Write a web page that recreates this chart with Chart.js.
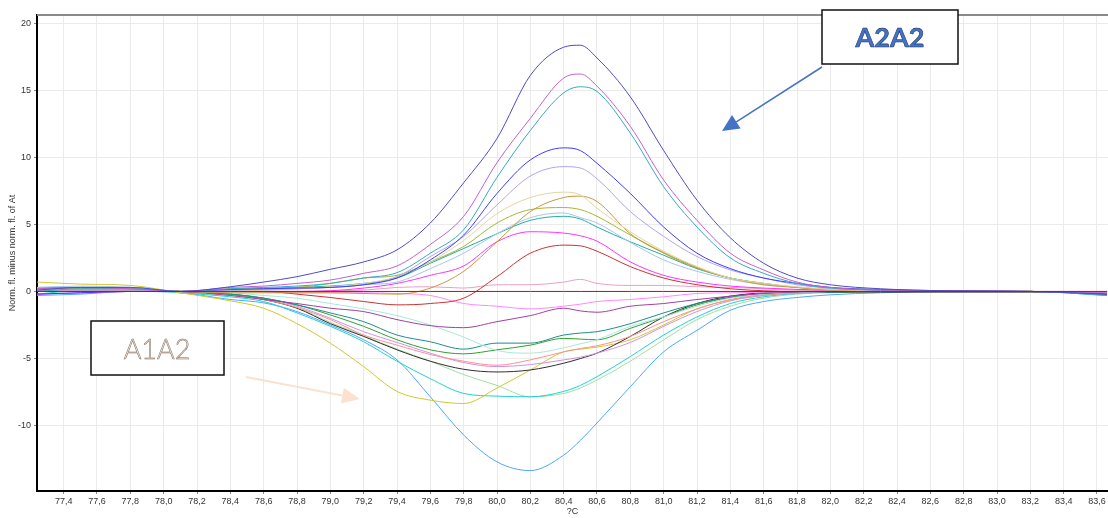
<!DOCTYPE html>
<html>
<head>
<meta charset="utf-8">
<script src="https://cdn.jsdelivr.net/npm/chart.js@4/dist/chart.umd.min.js"></script>
<style>
  html, body { margin: 0; padding: 0; background: #ffffff; }
  #wrap { position: relative; width: 1108px; height: 518px; }
</style>
</head>
<body>
<div id="wrap"><canvas id="melt" width="1108" height="518"></canvas></div>
<script>
// Temperatures (°C) at which each melt-difference curve is sampled
const temperatures = [77.24, 77.5, 77.8, 78.1, 78.4, 78.6, 78.8, 79.0, 79.2, 79.4, 79.6, 79.8, 80.0, 80.2, 80.4, 80.5, 80.6, 80.8, 81.0, 81.2, 81.4, 81.6, 81.8, 82.0, 82.3, 82.7, 83.2, 83.66];

// Axis tick values
const xTickValues = [77.4, 77.6, 77.8, 78.0, 78.2, 78.4, 78.6, 78.8, 79.0, 79.2, 79.4, 79.6, 79.8, 80.0, 80.2, 80.4, 80.6, 80.8, 81.0, 81.2, 81.4, 81.6, 81.8, 82.0, 82.2, 82.4, 82.6, 82.8, 83.0, 83.2, 83.4, 83.6];
const yTickValues = [-10, -5, 0, 5, 10, 15, 20];

// Normalised fluorescence minus reference (At), one array per sample
// A2A2 group (positive peaks)
const sample01 = [0.1, 0.3, 0.3, 0.0, 0.35, 0.7, 1.1, 1.65, 2.2, 3.1, 5.1, 8.1, 11.4, 16.1, 18.2, 18.35, 17.4, 14.5, 10.5, 6.8, 4.0, 2.1, 1.0, 0.5, 0.2, 0.05, 0.0, -0.2];
const sample02 = [0.2, 0.3, 0.2, 0.0, 0.3, 0.4, 0.6, 0.85, 1.35, 1.9, 3.5, 5.6, 9.6, 12.9, 15.9, 16.2, 15.3, 12.3, 8.3, 5.3, 2.85, 1.6, 0.7, 0.3, 0.1, 0.05, 0.0, -0.1];
const sample03 = [0.0, 0.2, 0.2, 0.0, 0.2, 0.3, 0.4, 0.6, 1.0, 1.4, 2.85, 4.6, 8.5, 12.0, 14.8, 15.25, 14.9, 11.8, 7.8, 4.8, 2.5, 1.35, 0.6, 0.25, 0.1, 0.0, 0.0, -0.3];
const sample04 = [-0.2, -0.1, 0.0, 0.0, 0.15, 0.2, 0.25, 0.3, 0.5, 1.0, 2.35, 4.2, 7.3, 9.8, 10.7, 10.5, 9.55, 7.3, 4.8, 2.85, 1.7, 1.0, 0.6, 0.3, 0.15, 0.05, 0.0, -0.2];
const sample05 = [0.1, 0.1, 0.1, 0.0, 0.1, 0.15, 0.2, 0.3, 0.5, 1.1, 2.6, 4.1, 6.45, 8.6, 9.3, 9.2, 8.4, 5.95, 4.1, 2.6, 1.6, 1.0, 0.5, 0.25, 0.1, 0.05, 0.0, -0.1];
const sample06 = [0.1, 0.1, 0.1, 0.0, 0.0, 0.1, 0.2, 0.35, 0.6, 1.1, 2.2, 3.8, 5.8, 7.0, 7.4, 7.2, 6.2, 4.45, 3.0, 1.85, 1.0, 0.6, 0.35, 0.15, 0.05, 0.0, 0.0, 0.0];
const sample07 = [0.0, 0.1, 0.1, 0.0, -0.1, -0.1, -0.1, -0.1, -0.15, -0.2, 0.25, 1.5, 3.7, 5.95, 7.0, 7.1, 6.7, 4.3, 2.85, 1.75, 1.0, 0.5, 0.3, 0.1, 0.05, 0.0, 0.0, -0.1];
const sample08 = [0.2, 0.2, 0.2, 0.0, 0.2, 0.25, 0.3, 0.6, 1.0, 1.2, 2.2, 3.35, 5.1, 6.1, 6.25, 6.1, 5.6, 4.2, 2.9, 1.8, 1.0, 0.6, 0.3, 0.15, 0.05, 0.0, 0.0, -0.1];
const sample09 = [0.3, 0.4, 0.3, 0.0, 0.1, 0.1, 0.2, 0.3, 0.5, 0.7, 1.7, 2.85, 4.3, 5.5, 5.85, 5.5, 5.1, 3.65, 2.35, 1.5, 0.9, 0.5, 0.3, 0.1, 0.05, 0.0, 0.0, -0.1];
const sample10 = [0.3, 0.3, 0.3, 0.0, 0.1, 0.2, 0.3, 0.4, 0.6, 1.0, 2.1, 3.2, 4.3, 5.3, 5.6, 5.4, 4.8, 3.7, 2.7, 1.7, 1.0, 0.6, 0.3, 0.15, 0.05, 0.0, 0.0, -0.2];
const sample11 = [-0.2, -0.1, 0.0, 0.0, 0.0, 0.0, 0.0, 0.05, 0.25, 0.6, 1.2, 1.9, 3.7, 4.45, 4.35, 4.15, 3.75, 2.2, 1.2, 0.7, 0.4, 0.25, 0.15, 0.1, 0.05, 0.0, 0.0, -0.1];
const sample12 = [0.0, 0.1, 0.1, 0.0, 0.0, 0.0, -0.2, -0.45, -0.75, -1.0, -0.9, -0.5, 1.1, 2.85, 3.45, 3.4, 3.0, 1.85, 1.0, 0.5, 0.2, 0.05, 0.0, 0.0, 0.0, 0.0, 0.0, -0.1];
const sample13 = [0.1, 0.2, 0.2, 0.0, 0.0, 0.0, 0.0, 0.05, 0.1, 0.3, 0.35, 0.25, 0.5, 0.5, 0.7, 0.9, 0.6, 0.45, 0.45, 0.35, 0.3, 0.2, 0.1, 0.05, 0.0, 0.0, 0.0, 0.0];
// reference sample (At) against itself
const sample14 = [0, 0, 0, 0, 0, 0, 0, 0, 0, 0, 0, 0, 0, 0, 0, 0, 0, 0, 0, 0, 0, 0, 0, 0, 0, 0, 0, 0];
// A1A2 group (negative troughs)
const sample15 = [0.1, 0.2, 0.2, 0.0, 0.0, -0.05, -0.1, -0.1, -0.1, -0.15, -0.3, -0.9, -1.1, -1.3, -1.1, -0.95, -0.75, -0.6, -0.4, -0.15, -0.1, -0.05, 0.0, 0.0, 0.0, 0.0, 0.0, -0.1];
const sample16 = [0.0, 0.0, 0.1, 0.0, -0.3, -0.6, -0.9, -1.25, -1.5, -2.1, -2.55, -2.7, -2.25, -1.8, -1.25, -1.45, -1.55, -1.1, -0.9, -0.6, -0.35, -0.15, -0.05, 0.0, 0.0, 0.0, 0.0, -0.2];
const sample17 = [0.1, 0.2, 0.1, 0.0, -0.1, -0.3, -0.5, -0.9, -1.3, -1.8, -2.5, -3.4, -4.4, -4.6, -4.2, -3.9, -3.6, -2.6, -1.9, -1.1, -0.5, -0.2, -0.1, 0.0, 0.0, 0.0, 0.0, -0.1];
const sample18 = [0.0, 0.1, 0.1, 0.0, -0.2, -0.5, -1.0, -1.6, -2.25, -3.25, -3.75, -4.3, -3.85, -3.85, -3.25, -3.1, -3.0, -2.4, -1.6, -0.9, -0.45, -0.2, -0.1, 0.0, 0.0, 0.0, 0.0, -0.1];
const sample19 = [0.1, 0.1, 0.1, 0.0, -0.2, -0.5, -1.0, -1.75, -2.6, -3.6, -4.35, -4.65, -4.35, -4.0, -3.5, -3.55, -3.6, -2.75, -1.9, -1.0, -0.45, -0.15, -0.05, 0.0, 0.0, 0.0, 0.0, -0.2];
const sample20 = [0.2, 0.2, 0.2, 0.0, -0.2, -0.6, -1.2, -2.1, -3.25, -4.0, -4.7, -5.2, -5.5, -5.1, -4.5, -4.25, -4.05, -3.35, -2.25, -1.3, -0.6, -0.25, -0.1, 0.0, 0.0, 0.0, 0.0, -0.1];
const sample21 = [0.0, 0.1, 0.1, 0.0, -0.2, -0.5, -1.1, -2.0, -3.0, -3.8, -4.6, -5.3, -5.6, -5.45, -5.1, -4.9, -4.6, -3.8, -2.6, -1.5, -0.7, -0.3, -0.1, 0.0, 0.0, 0.0, 0.0, -0.1];
const sample22 = [0.0, 0.1, 0.1, 0.0, -0.2, -0.6, -1.25, -2.4, -3.35, -4.35, -5.2, -5.8, -6.0, -5.85, -5.35, -5.0, -4.6, -3.35, -1.9, -0.9, -0.35, -0.1, -0.05, -0.05, -0.05, -0.05, -0.05, -0.1];
const sample23 = [0.7, 0.55, 0.45, -0.1, -0.7, -1.25, -2.4, -3.85, -5.6, -7.45, -8.1, -8.35, -7.2, -5.85, -4.5, -4.3, -4.15, -3.6, -2.5, -1.3, -0.65, -0.3, -0.1, 0.0, 0.0, 0.0, 0.0, -0.2];
const sample24 = [-0.2, 0.1, 0.2, -0.1, -0.4, -0.75, -1.6, -2.6, -3.75, -5.2, -6.5, -7.6, -7.8, -7.85, -7.45, -7.0, -6.35, -4.85, -3.25, -1.9, -0.9, -0.4, -0.15, -0.05, 0.0, 0.0, 0.0, -0.1];
const sample25 = [0.0, 0.1, 0.1, -0.1, -0.3, -0.6, -1.2, -2.3, -3.3, -4.3, -5.2, -6.2, -7.0, -7.85, -7.6, -7.2, -6.6, -5.2, -3.6, -2.1, -1.1, -0.5, -0.2, -0.1, 0.0, 0.0, 0.0, -0.1];
const sample26 = [-0.3, -0.2, 0.0, -0.1, -0.6, -0.85, -1.5, -2.5, -3.6, -5.1, -7.85, -10.7, -12.7, -13.35, -12.2, -11.1, -9.8, -7.1, -4.5, -2.9, -1.4, -0.75, -0.45, -0.25, -0.1, 0.0, 0.0, -0.3];

const samples = [sample01, sample02, sample03, sample04, sample05, sample06, sample07, sample08, sample09, sample10, sample11, sample12, sample13, sample14, sample15, sample16, sample17, sample18, sample19, sample20, sample21, sample22, sample23, sample24, sample25, sample26];
const sampleColors = ['#4c4cc8', '#c060d0', '#3aa6c8', '#3c3cff', '#b0a4f0', '#e6d4a0', '#c8963c', '#a4b830', '#a8c4ec', '#20b0a0', '#ff33ff', '#c83232', '#e8a0c8', '#e00000', '#ff88ff', '#a040a0', '#a8e8d8', '#208c8c', '#30a030', '#ff9090', '#d090e8', '#303030', '#d0c830', '#20d0d0', '#a0e0a0', '#4da6ff'];

const datasets = samples.map((vals, i) => ({
  label: 'Sample ' + (i + 1),
  data: temperatures.map((t, k) => ({ x: t, y: vals[k] })),
  borderColor: sampleColors[i],
  backgroundColor: sampleColors[i],
  borderWidth: 1,
  pointRadius: 0,
  fill: false,
  cubicInterpolationMode: 'monotone',
  // the At reference trace sits on top of the others
  order: vals === sample14 ? -1 : 0
}));

const axisFont = { family: "'Liberation Sans', Arial, sans-serif", size: 9 };

// Frame line along the top of the plot plus the two genotype call-outs
const calloutPlugin = {
  id: 'callouts',
  afterDraw(chart) {
    const ctx = chart.ctx;
    const a = chart.chartArea;
    ctx.save();
    ctx.strokeStyle = '#8a8a8a';
    ctx.lineWidth = 2;
    ctx.beginPath();
    ctx.moveTo(a.left, a.top);
    ctx.lineTo(a.right, a.top);
    ctx.stroke();

    function arrow(x1, y1, x2, y2, color, width, headLen, headHalf) {
      const ang = Math.atan2(y2 - y1, x2 - x1);
      const bx = x2 - headLen * Math.cos(ang), by = y2 - headLen * Math.sin(ang);
      ctx.strokeStyle = color;
      ctx.fillStyle = color;
      ctx.lineWidth = width;
      ctx.beginPath();
      ctx.moveTo(x1, y1);
      ctx.lineTo(bx, by);
      ctx.stroke();
      ctx.beginPath();
      ctx.moveTo(x2, y2);
      ctx.lineTo(bx + headHalf * Math.sin(ang), by - headHalf * Math.cos(ang));
      ctx.lineTo(bx - headHalf * Math.sin(ang), by + headHalf * Math.cos(ang));
      ctx.closePath();
      ctx.fill();
    }

    function box(x, y, w, h) {
      ctx.fillStyle = '#ffffff';
      ctx.fillRect(x, y, w, h);
      ctx.strokeStyle = '#111111';
      ctx.lineWidth = 1.5;
      ctx.strokeRect(x, y, w, h);
    }

    // A2A2 call-out
    box(822, 10, 136, 54);
    ctx.font = "bold 27px Lato, 'Open Sans', sans-serif";
    ctx.textAlign = 'center';
    ctx.textBaseline = 'middle';
    ctx.fillStyle = '#4472c4';
    ctx.fillText('A2A2', 890, 38);
    ctx.strokeStyle = '#1f3864';
    ctx.lineWidth = 0.6;
    ctx.strokeText('A2A2', 890, 38);
    arrow(822, 67, 722, 131, '#4472c4', 1.5, 17, 8);

    // A1A2 call-out
    box(91, 321, 133, 54);
    ctx.font = "300 27px Lato, 'Open Sans', sans-serif";
    ctx.fillStyle = '#fbe5d6';
    ctx.fillText('A1A2', 157, 350);
    ctx.strokeStyle = '#7a6a62';
    ctx.lineWidth = 0.5;
    ctx.strokeText('A1A2', 157, 350);
    arrow(246, 377, 360, 399, '#fbe2d0', 2, 18, 8);
    ctx.restore();
  }
};

new Chart(document.getElementById('melt'), {
  type: 'line',
  data: { datasets },
  plugins: [calloutPlugin],
  options: {
    responsive: false,
    animation: false,
    devicePixelRatio: 1,
    layout: { padding: { top: 15, right: 0, bottom: 0, left: 0 } },
    plugins: { legend: { display: false }, tooltip: { enabled: false } },
    elements: { point: { radius: 0 }, line: { borderWidth: 1 } },
    scales: {
      x: {
        type: 'linear',
        min: 77.24,
        max: 83.666,
        afterBuildTicks: s => { s.ticks = xTickValues.map(v => ({ value: v })); },
        afterFit: s => { s.height = 27; },
        ticks: {
          autoSkip: false, maxRotation: 0, padding: 2, color: '#333333', font: axisFont,
          callback: v => Number(v).toFixed(1).replace('.', ',')
        },
        grid: { color: '#ebebeb', lineWidth: 1, tickLength: 3, tickColor: '#888888' },
        border: { color: '#000000', width: 2 },
        title: { display: true, text: '?C', color: '#333333', font: axisFont, padding: { top: 0, bottom: 1 } }
      },
      y: {
        type: 'linear',
        min: -14.87,
        max: 20.6,
        afterBuildTicks: s => { s.ticks = yTickValues.map(v => ({ value: v })); },
        afterFit: s => { s.width = 37; },
        ticks: { padding: 3, color: '#333333', font: axisFont },
        grid: { color: '#ebebeb', lineWidth: 1, tickLength: 3, tickColor: '#888888' },
        border: { color: '#000000', width: 2 },
        title: { display: true, text: 'Norm. fl. minus norm. fl. of At', color: '#333333', font: axisFont, padding: { top: 7, bottom: 0 } }
      }
    }
  }
});
</script>
</body>
</html>
